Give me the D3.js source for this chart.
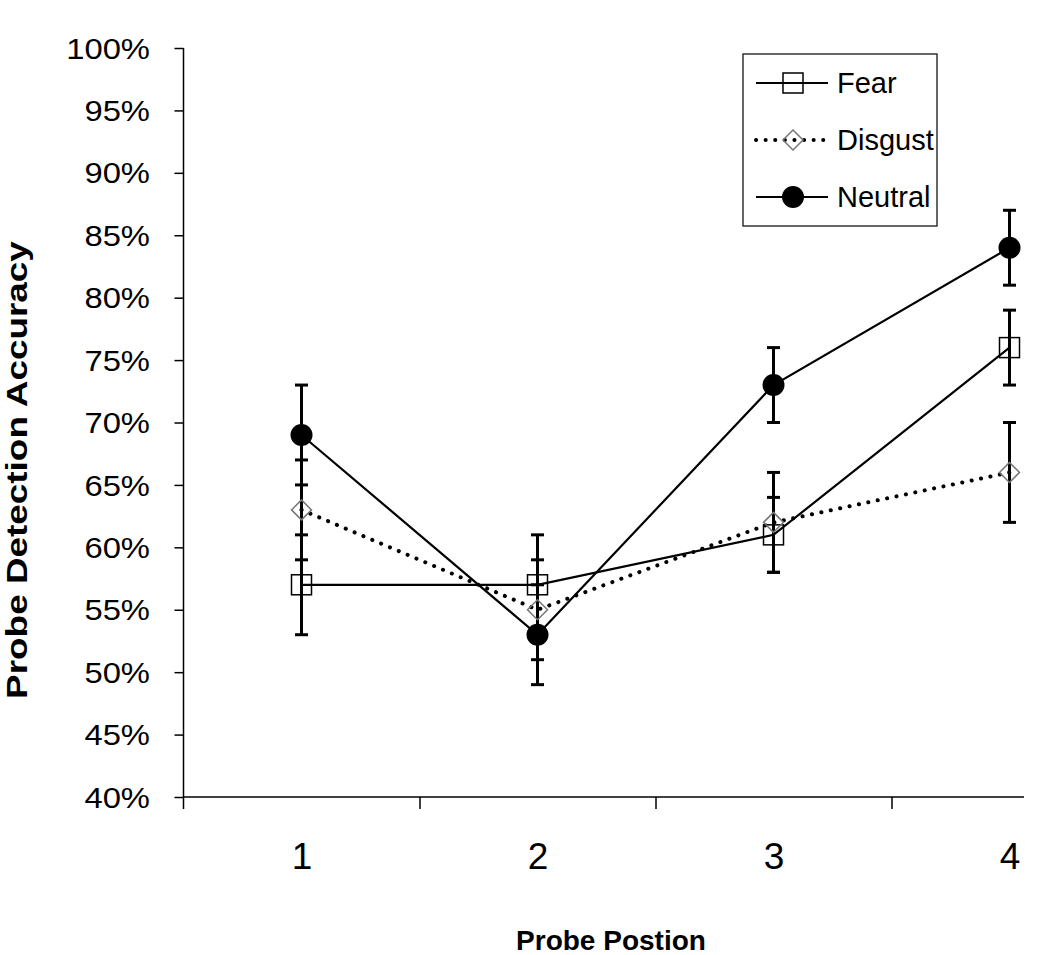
<!DOCTYPE html>
<html>
<head>
<meta charset="utf-8">
<script src="https://cdn.jsdelivr.net/npm/d3@7"></script>
<style>
  html, body { margin: 0; padding: 0; background: #fff; }
  svg { display: block; font-family: "Liberation Sans", Arial, sans-serif; }
</style>
</head>
<body>
<svg id="chart" width="1050" height="955"></svg>
<script>
// ---- data ----
const positions = [1, 2, 3, 4];
const positionLabels = ["1", "2", "3", "4"];
const fear = [57, 57, 61, 76];
const fearErr = [4, 4, 3, 3];
const disgust = [63, 55, 62, 66];
const disgustErr = [4, 4, 4, 4];
const neutral = [69, 53, 73, 84];
const neutralErr = [4, 4, 3, 3];
const yTicks = [40, 45, 50, 55, 60, 65, 70, 75, 80, 85, 90, 95, 100];
const seriesNames = ["Fear", "Disgust", "Neutral"];

// ---- layout ----
const svg = d3.select("#chart");
const plotLeft = 183.5, plotTop = 48, plotBottom = 797, axisEnd = 1024;
const x = d3.scaleLinear().domain([0.5, 4.5]).range([plotLeft, plotLeft + 944]);
const y = d3.scaleLinear().domain([40, 100]).range([plotBottom, plotTop]);

// y axis
const yAxis = svg.append("g")
  .attr("transform", `translate(${plotLeft},0)`)
  .call(d3.axisLeft(y).tickValues(yTicks).tickSize(9).tickFormat(d => d + "%"));
yAxis.select(".domain").remove();
yAxis.append("line").attr("x1", 0).attr("x2", 0).attr("y1", plotTop).attr("y2", plotBottom + 12)
  .attr("stroke", "#000").attr("stroke-width", 1.5);
yAxis.selectAll(".tick line").attr("stroke", "#000").attr("stroke-width", 1.5);
yAxis.selectAll(".tick text")
  .attr("font-size", 29).attr("fill", "#000")
  .attr("font-family", "Liberation Sans, Arial, sans-serif")
  .attr("x", -33.5 / 1.13).attr("dy", "0.35em")
  .attr("transform", "scale(1.13,1)");

// x axis boundary ticks
const xTickAxis = svg.append("g")
  .attr("transform", `translate(0,${plotBottom})`)
  .call(d3.axisBottom(x).tickValues([1.5, 2.5, 3.5]).tickSize(12).tickFormat(""));
xTickAxis.select(".domain").remove();
xTickAxis.selectAll(".tick line").attr("stroke", "#000").attr("stroke-width", 1.5);
svg.append("line").attr("x1", plotLeft).attr("x2", axisEnd).attr("y1", plotBottom).attr("y2", plotBottom)
  .attr("stroke", "#000").attr("stroke-width", 1.5);

// x labels
const xLab = svg.append("g")
  .attr("transform", `translate(0,${plotBottom})`)
  .call(d3.axisBottom(x).tickValues(positions).tickSize(0).tickPadding(0)
    .tickFormat((d, i) => positionLabels[i]));
xLab.select(".domain").remove();
xLab.selectAll(".tick text").attr("font-size", 37).attr("fill", "#000")
  .attr("font-family", "Liberation Sans, Arial, sans-serif")
  .attr("y", 72).attr("dy", 0);

// axis titles
svg.append("text")
  .attr("transform", "translate(27,470) rotate(-90) scale(1.23,1)")
  .attr("text-anchor", "middle").attr("font-weight", "bold").attr("font-size", 30)
  .text("Probe Detection Accuracy");
svg.append("text")
  .attr("x", 611).attr("y", 950)
  .attr("text-anchor", "middle").attr("font-weight", "bold").attr("font-size", 28)
  .text("Probe Postion");

// ---- series ----
const series = [
  { name: "Fear", vals: fear, err: fearErr, dash: null, marker: "square" },
  { name: "Disgust", vals: disgust, err: disgustErr, dash: "0.1 9.5", marker: "diamond" },
  { name: "Neutral", vals: neutral, err: neutralErr, dash: null, marker: "circle" }
];

// error bars
const eb = svg.append("g");
series.forEach(s => {
  s.vals.forEach((v, i) => {
    const cx = x(positions[i]);
    const g = eb.append("g").attr("stroke", "#000").attr("stroke-width", 3);
    g.append("line").attr("x1", cx).attr("x2", cx).attr("y1", y(v - s.err[i])).attr("y2", y(v + s.err[i]));
    g.append("line").attr("x1", cx - 6.5).attr("x2", cx + 6.5).attr("y1", y(v - s.err[i])).attr("y2", y(v - s.err[i]));
    g.append("line").attr("x1", cx - 6.5).attr("x2", cx + 6.5).attr("y1", y(v + s.err[i])).attr("y2", y(v + s.err[i]));
  });
});

const line = d3.line().x((d, i) => x(positions[i])).y(d => y(d));

function drawMarker(g, type, cx, cy) {
  if (type === "square") {
    g.append("rect").attr("x", cx - 10).attr("y", cy - 10).attr("width", 20).attr("height", 20)
      .attr("fill", "none").attr("stroke", "#000").attr("stroke-width", 1.5);
  } else if (type === "diamond") {
    g.append("path").attr("d", `M${cx},${cy - 10}L${cx + 10},${cy}L${cx},${cy + 10}L${cx - 10},${cy}Z`)
      .attr("fill", "none").attr("stroke", "#777").attr("stroke-width", 1.5);
  } else {
    g.append("circle").attr("cx", cx).attr("cy", cy).attr("r", 11).attr("fill", "#000");
  }
}

series.forEach(s => {
  const g = svg.append("g");
  g.append("path").datum(s.vals).attr("d", line)
    .attr("fill", "none").attr("stroke", "#000")
    .attr("stroke-width", s.dash ? 4 : 2.2)
    .attr("stroke-linecap", s.dash ? "round" : "butt")
    .attr("stroke-dasharray", s.dash);
  s.vals.forEach((v, i) => drawMarker(g, s.marker, x(positions[i]), y(v)));
});

// ---- legend ----
const lg = svg.append("g");
lg.append("rect").attr("x", 743).attr("y", 54).attr("width", 194).attr("height", 172)
  .attr("fill", "#fff").attr("stroke", "#333").attr("stroke-width", 1.5);
series.forEach((s, i) => {
  const ry = 83 + i * 57;
  lg.append("line").attr("x1", 756).attr("x2", 828).attr("y1", ry).attr("y2", ry)
    .attr("stroke", "#000").attr("stroke-width", s.dash ? 4 : 2.2)
    .attr("stroke-linecap", s.dash ? "round" : "butt")
    .attr("stroke-dasharray", s.dash);
  drawMarker(lg, s.marker, 793, ry);
  lg.append("text").attr("x", 837).attr("y", ry + 10).attr("font-size", 29).attr("fill", "#000")
    .text(seriesNames[i]);
});
</script>
</body>
</html>
